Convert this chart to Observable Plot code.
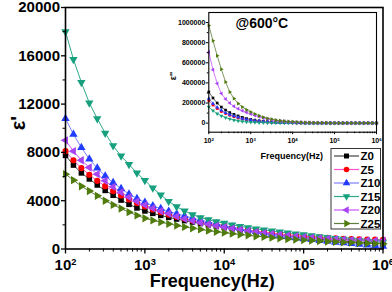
<!DOCTYPE html>
<html><head><meta charset="utf-8">
<script src="https://cdn.jsdelivr.net/npm/d3@7"></script>
<script src="https://cdn.jsdelivr.net/npm/@observablehq/plot@0.6"></script>
<style>
body{margin:0;background:#fff;font-family:"Liberation Sans",Arial,sans-serif;}
#wrap{position:relative;width:392px;height:292px;overflow:hidden;background:#fff}
#wrap svg{position:absolute;overflow:visible;background:none}
</style></head><body><div id="wrap"></div>
<script>
// log10 of frequency (Hz)
const logF = [2.0,2.1,2.2,2.3,2.4,2.5,2.6,2.7,2.8,2.9,3.0,3.1,3.2,3.3,3.4,3.5,3.6,3.7,3.8,3.9,4.0,4.1,4.2,4.3,4.4,4.5,4.6,4.7,4.8,4.9,5.0,5.1,5.2,5.3,5.4,5.5,5.6,5.7,5.8,5.9,6.0];
const seriesNames = ["Z0","Z5","Z10","Z15","Z20","Z25"];
// main: ε'
const epsZ0  = [7750,6950,6300,5800,5300,4850,4450,4050,3700,3400,3150,2950,2780,2620,2480,2350,2230,2110,2000,1890,1790,1690,1590,1500,1410,1320,1240,1160,1080,1010,940,880,820,760,710,660,610,570,530,490,460];
const epsZ5  = [8100,7350,6700,6150,5650,5200,4800,4430,4100,3800,3530,3280,3050,2850,2680,2520,2370,2230,2100,1980,1870,1760,1660,1570,1480,1400,1320,1250,1180,1120,1060,1010,960,920,880,850,820,800,780,770,760];
const epsZ10 = [10800,9500,8400,7450,6700,6050,5500,5000,4550,4180,3860,3580,3340,3120,2920,2740,2570,2400,2240,2090,1950,1810,1680,1560,1440,1330,1220,1120,1020,930,850,770,700,630,560,500,440,380,320,270,220];
const epsZ15 = [18000,15700,13800,12100,10800,9600,8550,7700,7000,6300,5680,5050,4480,3950,3500,3150,2850,2600,2420,2270,2140,2000,1880,1770,1670,1580,1490,1410,1340,1260,1180,1100,1020,950,880,820,760,700,650,600,560];
const epsZ20 = [9000,8100,7350,6750,6200,5650,5150,4700,4300,3950,3650,3380,3150,2930,2700,2500,2330,2180,2040,1920,1800,1690,1590,1490,1400,1320,1240,1170,1100,1040,980,930,880,840,800,770,740,720,700,690,680];
const epsZ25 = [6200,5700,5200,4800,4400,4000,3650,3350,3050,2780,2550,2370,2220,2080,1950,1830,1720,1620,1520,1430,1350,1270,1200,1130,1060,1000,940,880,830,780,740,700,660,620,590,560,530,500,480,450,430];
// inset: ε''
const lossZ0  = [310000,250000,200000,160000,130000,105000,87000,72000,58000,46000,37000,30000,24000,19000,15000,12000,9500,7500,6000,4800,3800,3100,2500,2000,1700,1400,1200,1100,1000,950,900,850,800,750,700,650,600,580,560,540,520];
const lossZ5  = [225000,180000,145000,117000,95000,78000,64000,52000,42000,34000,27000,22000,17500,14000,11000,8800,7000,5600,4500,3600,2900,2300,1900,1600,1300,1100,1000,900,850,800,750,700,680,660,640,620,600,590,580,570,560];
const lossZ10 = [245000,195000,158000,127000,103000,85000,70000,57000,46000,37000,30000,24000,19000,15000,12000,9500,7500,6000,4800,3800,3000,2400,1900,1500,1200,1000,850,700,600,520,460,410,370,340,310,290,270,250,240,230,220];
const lossZ15 = [161000,125000,95000,73000,55000,41000,30000,22000,16000,12000,9000,7000,5500,4300,3400,2700,2200,1800,1500,1300,1100,1000,900,850,800,760,720,690,660,640,620,600,590,580,570,560,550,540,530,520,510];
const lossZ20 = [706000,530000,395000,295000,240000,200000,167000,143000,124000,107000,92000,77000,64000,52000,42000,34000,27000,22000,18000,15000,12000,9800,8000,6600,5500,4600,3900,3300,2800,2400,2100,1900,1700,1550,1400,1300,1200,1100,1000,950,900];
const lossZ25 = [970000,820000,670000,535000,410000,310000,245000,195000,160000,132000,110000,90000,73000,59000,47000,38000,30000,25000,20000,16000,13000,10500,8500,7000,5800,4800,4000,3400,2900,2500,2200,2000,1800,1600,1500,1400,1300,1200,1100,1000,900];
// ticks
const xTicks = [1e2,1e3,1e4,1e5,1e6];
const yTicks = [0,4000,8000,12000,16000,20000];
const yMinor = [2000,6000,10000,14000,18000];
const insetYTicks = [0,200000,400000,600000,800000,1000000];
const insetYMinor = [100000,300000,500000,700000,900000];

const epsAll = [epsZ0,epsZ5,epsZ10,epsZ15,epsZ20,epsZ25];
const lossAll = [lossZ0,lossZ5,lossZ10,lossZ15,lossZ20,lossZ25];
const dotColors = ["#000000","#ff0000","#1f3cff","#17a07e","#a845f2","#4f7c0c"];
const lineColors = ["#444444","#ff55cc","#7f7fff","#2fa888","#cc55ff","#5f7f3f"];

function tri(dir){
  return {draw(ctx,size){
    const s3=Math.sqrt(3), k=Math.sqrt(size/(s3*3));
    let p=[[0,-2*k],[-s3*k,k],[s3*k,k]];
    if(dir==="down") p=p.map(([x,y])=>[x,-y]);
    if(dir==="left") p=p.map(([x,y])=>[y,x]);
    if(dir==="right") p=p.map(([x,y])=>[-y,x]);
    ctx.moveTo(p[0][0],p[0][1]);ctx.lineTo(p[1][0],p[1][1]);ctx.lineTo(p[2][0],p[2][1]);ctx.closePath();
  }};
}
const symbols = [d3.symbolSquare,d3.symbolCircle,tri("up"),tri("down"),tri("left"),tri("right")];

const minorX = [];
for (let d=100; d<1e6; d*=10) for (let m=2;m<=9;m++) minorX.push(d*m);

const fmtPow = d => "10^" + Math.round(Math.log10(d));
const fmtInt = d3.format("d");

function seriesMarks(values, r, lw){
  const marks=[];
  values.forEach((arr,i)=>{
    const data = logF.map((e,j)=>({f:10**e, v:arr[j]}));
    marks.push(Plot.line(data,{x:"f",y:"v",stroke:lineColors[i],strokeWidth:lw}));
  });
  values.forEach((arr,i)=>{
    const data = logF.map((e,j)=>({f:10**e, v:arr[j]}));
    marks.push(Plot.dot(data,{x:"f",y:"v",symbol:symbols[i],fill:dotColors[i],stroke:"none",r}));
  });
  return marks;
}

const FONT = "Liberation Sans, Arial, sans-serif";
const main = Plot.plot({
  width:392, height:292, marginLeft:65, marginRight:9.5, marginTop:7, marginBottom:43.5,
  style:{fontFamily:FONT, fontWeight:"bold", color:"#000", background:"transparent"},
  x:{type:"log", domain:[100,1e6]},
  y:{domain:[0,20000]},
  marks:[
    ...seriesMarks(epsAll, 3.1, 1),
    Plot.frame({stroke:"#000", strokeWidth:1.6}),
    Plot.axisX({ticks:xTicks, tickSize:5, tickPadding:5, tickFormat:fmtPow, fontSize:15, fontWeight:"bold", label:null, strokeWidth:1.3}),
    Plot.axisX({ticks:minorX, tickSize:3, tickFormat:()=>"", label:null, strokeWidth:1}),
    Plot.axisY({ticks:yTicks, tickSize:4, tickPadding:1.5, tickFormat:fmtInt, fontSize:15, fontWeight:"bold", label:null, strokeWidth:1.3}),
    Plot.axisY({ticks:yMinor, tickSize:2.5, tickFormat:()=>"", label:null, strokeWidth:1}),
    Plot.text(["Frequency(Hz)"],{frameAnchor:"bottom", dx:-12, dy:38, lineAnchor:"bottom", fontSize:18, fontWeight:"bold"}),
    Plot.text(["ε'"],{frameAnchor:"left", dx:-47, dy:2, rotate:-90, fontSize:20, fontWeight:"bold"})
  ]
});
main.style.left="0px"; main.style.top="0px";

const inset = Plot.plot({
  width:235, height:165, marginLeft:58.3, marginRight:9, marginTop:12, marginBottom:33.3,
  style:{fontFamily:FONT, fontWeight:"bold", color:"#000", background:"transparent"},
  x:{type:"log", domain:[100,1e6]},
  y:{domain:[-90000,1100000]},
  marks:[
    Plot.frame({fill:"#fff", stroke:"none"}),
    ...seriesMarks(lossAll, 1.5, 0.8),
    Plot.frame({stroke:"#000", strokeWidth:1.1}),
    Plot.axisX({ticks:xTicks, tickSize:2.5, tickPadding:3.5, tickFormat:fmtPow, fontSize:7, fontWeight:"bold", label:null}),
    Plot.axisX({ticks:minorX, tickSize:1.5, tickFormat:()=>"", label:null}),
    Plot.axisY({ticks:insetYTicks, tickSize:2.5, tickPadding:1, tickFormat:fmtInt, fontSize:7, fontWeight:"bold", label:null}),
    Plot.axisY({ticks:insetYMinor, tickSize:1.5, tickFormat:()=>"", label:null}),
    Plot.text(["@600°C"],{frameAnchor:"top-left", dx:26.7, dy:15.5, lineAnchor:"bottom", textAnchor:"start", fontSize:14, fontWeight:"bold"}),
    Plot.text(["Frequency(Hz)"],{frameAnchor:"bottom", dx:-1, dy:26.3, lineAnchor:"bottom", fontSize:9, fontWeight:"bold"}),
    Plot.text(["ε''"],{frameAnchor:"left", dx:-36, dy:8, rotate:-90, fontSize:9, fontWeight:"bold"})
  ]
});
inset.style.left="150px"; inset.style.top="0px";

const wrap = document.getElementById("wrap");
wrap.appendChild(main);
wrap.appendChild(inset);

// superscript exponents
const ns="http://www.w3.org/2000/svg";
[main,inset].forEach(svg=>{
  svg.querySelectorAll("text").forEach(t=>{
    const m=/^10\^(\d)$/.exec(t.textContent);
    if(m){
      t.textContent="10";
      const ts=document.createElementNS(ns,"tspan");
      ts.setAttribute("dy","-0.45em");
      ts.setAttribute("font-size","0.62em");
      ts.textContent=m[1];
      t.appendChild(ts);
    }
  });
});

// legend
const leg = d3.select(wrap).append("svg").attr("width",392).attr("height",292).style("left","0px").style("top","0px");
leg.append("rect").attr("x",331).attr("y",148.5).attr("width",49.5).attr("height",80.5)
  .attr("fill","#fff").attr("stroke","#333").attr("stroke-width",1);
seriesNames.forEach((name,i)=>{
  const y = 156 + i*13.5;
  leg.append("line").attr("x1",334).attr("x2",359).attr("y1",y).attr("y2",y).attr("stroke",lineColors[i]).attr("stroke-width",1.2);
  leg.append("path").attr("d",d3.symbol().type(symbols[i]).size(2.8*2.8*Math.PI)()).attr("transform",`translate(346.5,${y})`).attr("fill",dotColors[i]);
  leg.append("text").attr("x",360.5).attr("y",y+4).attr("font-family",FONT).attr("font-weight","bold").attr("font-size",11.5).attr("fill","#000").text(name);
});
</script>
</body></html>
